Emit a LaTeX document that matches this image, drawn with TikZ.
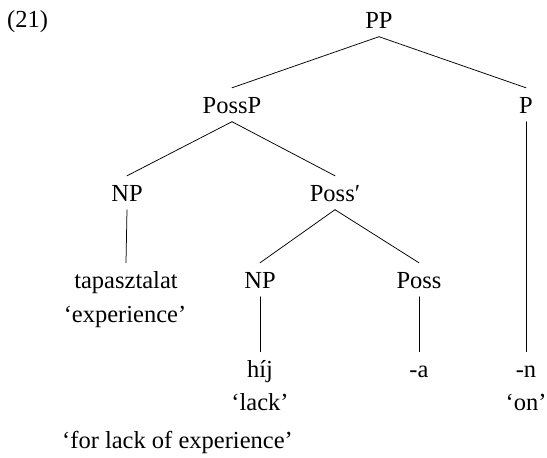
\documentclass[tikz,border=0pt]{standalone}
\usepackage{fontspec}
\setmainfont{Liberation Serif}
\begin{document}
\begin{tikzpicture}[x=1pt,y=-1pt,
  lbl/.style={font=\fontsize{24.5}{29}\selectfont, anchor=base, inner sep=0pt},
  cat/.style={lbl, text height=16.5pt, text depth=0pt, inner ysep=8.5pt},
  branch/.style={line width=0.75pt, line cap=round}]
\useasboundingbox (0,0) rectangle (547,458);

% example number
\node[lbl, anchor=base west] (num) at (7,27) {(21)};

% tree nodes
\node[cat] (pp)      at (379,28)  {PP};
\node[cat] (possp)   at (232,113) {PossP};
\node[cat] (p)       at (526,113) {P};
\node[cat] (np1)     at (127,201) {NP};
\node[cat] (possbar) at (335,201) {Poss′};
\node[cat] (tap)     at (126,288) {tapasztalat};
\node[lbl] (tapgl)   at (125,322) {‘experience’};
\node[cat] (np2)     at (260,288) {NP};
\node[cat] (poss)    at (419,288) {Poss};
\node[cat] (hij)     at (260,377) {híj};
\node[lbl] (hijgl)   at (260,410) {‘lack’};
\node[cat] (a)       at (419,377) {-a};
\node[cat] (n)       at (526,377) {-n};
\node[lbl] (ngl)     at (526,410) {‘on’};

% free translation
\node[lbl, anchor=base west] (trans) at (62,448) {‘for lack of experience’};

% branches
\draw[branch] (pp.south) -- (possp.north);
\draw[branch] (pp.south) -- (p.north);
\draw[branch] (possp.south) -- (np1.north);
\draw[branch] (possp.south) -- (possbar.north);
\draw[branch] (p.south) -- (n.north);
\draw[branch] (np1.south) -- (tap.north);
\draw[branch] (possbar.south) -- (np2.north);
\draw[branch] (possbar.south) -- (poss.north);
\draw[branch] (np2.south) -- (hij.north);
\draw[branch] (poss.south) -- (a.north);
\end{tikzpicture}
\end{document}
